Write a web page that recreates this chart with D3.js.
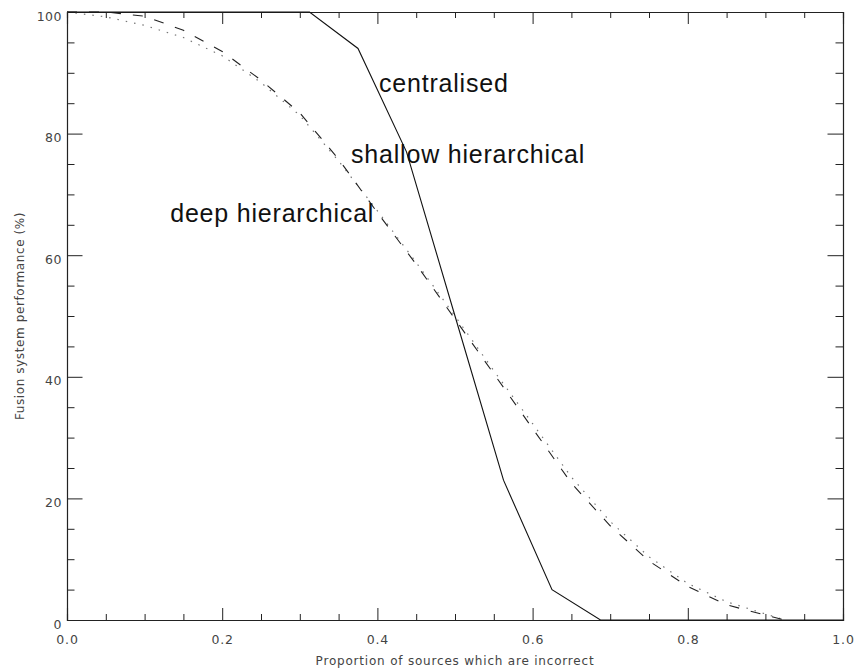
<!DOCTYPE html>
<html>
<head>
<meta charset="utf-8">
<script src="https://cdn.jsdelivr.net/npm/d3@7"></script>
<style>
  html, body { margin: 0; padding: 0; background: #fff; }
  svg { display: block; }
  .tick text { font-family: "DejaVu Sans", sans-serif; }
</style>
</head>
<body>
<svg id="chart" width="858" height="672"></svg>
<script>
// Proportion of incorrect sources (x) vs fusion performance in % (y)
const centralisedX = [0, 0.3125, 0.375, 0.4375, 0.5, 0.5625, 0.625, 0.6875, 1.0];
const centralisedY = [100, 100, 94, 77, 50, 23, 5, 0, 0];

const hierX = [0, 0.05, 0.1, 0.15, 0.2, 0.25, 0.3, 0.35, 0.4, 0.45, 0.5, 0.55, 0.6, 0.65, 0.7, 0.75, 0.8, 0.85, 0.9, 0.925];
const shallowY = [100, 100, 99.3, 97, 93.5, 88.8, 83.4, 75.8, 67, 58.5, 49.5, 40.5, 31.5, 22.5, 15.5, 9.7, 5.5, 2.5, 0.8, 0];
const deepY    = [100, 99.2, 97.8, 95.8, 92.8, 88.4, 83, 75.5, 67.3, 58.8, 50, 41, 32.3, 23.5, 16.2, 10.4, 6, 3, 1, 0];

const xMajorTicks = [0, 0.2, 0.4, 0.6, 0.8, 1.0];
const xTickLabels = ["0.0", "0.2", "0.4", "0.6", "0.8", "1.0"];
const yMajorTicks = [0, 20, 40, 60, 80, 100];
const yTickLabels = ["0", "20", "40", "60", "80", "100"];

const curveLabels = ["centralised", "shallow hierarchical", "deep hierarchical"];
const curveLabelAnchors = [[0.402, 86.8], [0.366, 75.2], [0.133, 65.4]];

const xTitle = "Proportion of sources which are incorrect";
const yTitle = "Fusion system performance (%)";

const svg = d3.select("#chart");
const plotL = 67, plotR = 843, plotT = 12, plotB = 620;
const x = d3.scaleLinear().domain([0, 1]).range([plotL, plotR]);
const y = d3.scaleLinear().domain([0, 100]).range([plotB, plotT]);

const xMinor = d3.range(0, 1.0001, 0.05).map(v => +v.toFixed(2)).filter(v => !xMajorTicks.includes(v));
const yMinor = d3.range(0, 100.001, 5).filter(v => !yMajorTicks.includes(v));

const axisColor = "#222";
const majX = 12, minX = 6, majY = 15.5, minY = 7.5;

function styleAxis(g) {
  g.select(".domain").attr("stroke", axisColor).attr("stroke-width", 1.1);
  g.selectAll(".tick line").attr("stroke", axisColor).attr("stroke-width", 1);
}

// bottom axis with labels
svg.append("g").attr("transform", `translate(0,${plotB})`)
  .call(d3.axisBottom(x).tickValues(xMajorTicks).tickSize(-majX).tickPadding(15)
    .tickFormat((d, i) => xTickLabels[i]))
  .call(styleAxis)
  .call(g => g.selectAll(".tick text").attr("font-size", 12.5).attr("fill", "#444").attr("letter-spacing", 0.8));
svg.append("g").attr("transform", `translate(0,${plotB})`)
  .call(d3.axisBottom(x).tickValues(xMinor).tickSize(-minX).tickFormat(""))
  .call(styleAxis);

// top axis (ticks only)
svg.append("g").attr("transform", `translate(0,${plotT})`)
  .call(d3.axisTop(x).tickValues(xMajorTicks).tickSize(-majX).tickFormat(""))
  .call(styleAxis);
svg.append("g").attr("transform", `translate(0,${plotT})`)
  .call(d3.axisTop(x).tickValues(xMinor).tickSize(-minX).tickFormat(""))
  .call(styleAxis);

// left axis with labels
svg.append("g").attr("transform", `translate(${plotL},0)`)
  .call(d3.axisLeft(y).tickValues(yMajorTicks).tickSize(-majY).tickPadding(5)
    .tickFormat((d, i) => yTickLabels[i]))
  .call(styleAxis)
  .call(g => g.selectAll(".tick text").attr("font-size", 12.5).attr("fill", "#444").attr("letter-spacing", 0.5).attr("dy", "0.65em"));
svg.append("g").attr("transform", `translate(${plotL},0)`)
  .call(d3.axisLeft(y).tickValues(yMinor).tickSize(-minY).tickFormat(""))
  .call(styleAxis);

// right axis (ticks only)
svg.append("g").attr("transform", `translate(${plotR},0)`)
  .call(d3.axisRight(y).tickValues(yMajorTicks).tickSize(-majY).tickFormat(""))
  .call(styleAxis);
svg.append("g").attr("transform", `translate(${plotR},0)`)
  .call(d3.axisRight(y).tickValues(yMinor).tickSize(-minY).tickFormat(""))
  .call(styleAxis);

// curves
const line = d3.line().x(d => x(d[0])).y(d => y(d[1]));
const series = [
  { xs: hierX, ys: deepY, stroke: "#777", width: 1.2, dash: "1.5,7" },
  { xs: hierX, ys: shallowY, stroke: "#222", width: 1.1, dash: "10,12" },
  { xs: centralisedX, ys: centralisedY, stroke: "#111", width: 1.1, dash: null }
];
series.forEach(s => {
  svg.append("path")
    .datum(s.xs.map((v, i) => [v, s.ys[i]]))
    .attr("d", line)
    .attr("fill", "none")
    .attr("stroke", s.stroke)
    .attr("stroke-width", s.width)
    .attr("stroke-dasharray", s.dash);
});

// curve labels
svg.append("g").selectAll("text").data(curveLabels).join("text")
  .attr("x", (d, i) => x(curveLabelAnchors[i][0]))
  .attr("y", (d, i) => y(curveLabelAnchors[i][1]))
  .attr("font-family", "Liberation Sans, Arial, sans-serif")
  .attr("font-size", 25)
  .attr("letter-spacing", 0.8)
  .attr("fill", "#111")
  .text(d => d);

// axis titles
svg.append("text")
  .attr("x", (plotL + plotR) / 2).attr("y", 665)
  .attr("text-anchor", "middle")
  .attr("font-family", "DejaVu Sans, sans-serif")
  .attr("font-size", 12).attr("letter-spacing", 0.8).attr("fill", "#444")
  .text(xTitle);
svg.append("text")
  .attr("transform", `translate(24,${(plotT + plotB) / 2}) rotate(-90)`)
  .attr("text-anchor", "middle")
  .attr("font-family", "DejaVu Sans, sans-serif")
  .attr("font-size", 12).attr("letter-spacing", 0.6).attr("fill", "#444")
  .text(yTitle);
</script>
</body>
</html>
